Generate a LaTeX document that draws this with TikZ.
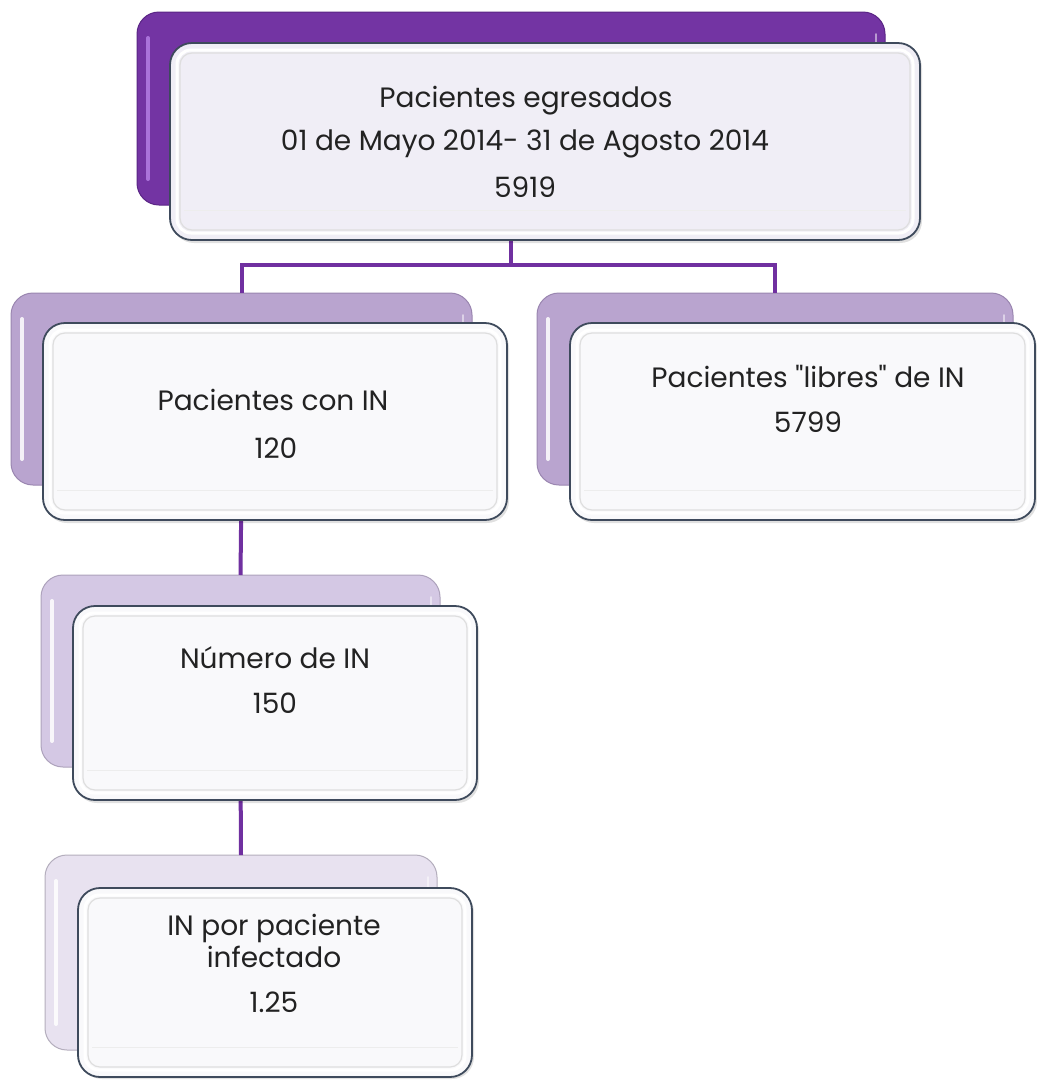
\documentclass[tikz,border=0pt]{standalone}
\usepackage{fontspec}
\setmainfont{Poppins}
\setmonofont{Poppins}
\usetikzlibrary{calc}
\definecolor{conncol}{HTML}{7030A0}
\definecolor{backA}{HTML}{7334A3}
\definecolor{backAline}{HTML}{5A2585}
\definecolor{backAhi}{HTML}{B47FE4}
\definecolor{backB}{HTML}{B9A4CF}
\definecolor{backBline}{HTML}{9A86B0}
\definecolor{backC}{HTML}{D4C8E4}
\definecolor{backCline}{HTML}{ADA2BC}
\definecolor{backD}{HTML}{E8E2F0}
\definecolor{backDline}{HTML}{B4AEBD}
\definecolor{frontA}{HTML}{F0EEF6}
\definecolor{frontB}{HTML}{F9F9FB}
\definecolor{frontline}{HTML}{3E4A5C}
\definecolor{txtcol}{HTML}{222222}
\newcommand\mybackdeco[2]{%
  \draw[#2, opacity=.85, line width=4pt, line cap=round]
    ([shift={(11,26)}]#1.north west) -- ([shift={(11,-26)}]#1.south west);
  \draw[white, opacity=.5, line width=2pt, line cap=round]
    ([shift={(-9,22)}]#1.north east) -- ([shift={(-9,40)}]#1.north east);
}
\newcommand\myfrontdeco[1]{%
  \draw[white, line width=3pt, rounded corners=14pt]
    ([shift={(7,7)}]#1.north west) rectangle ([shift={(-7,-7)}]#1.south east);
  \draw[black!13, line width=1.2pt, rounded corners=12pt]
    ([shift={(10,10)}]#1.north west) rectangle ([shift={(-10,-10)}]#1.south east);
  \draw[black!7, line width=1pt]
    ([shift={(14,-30)}]#1.south west) -- ([shift={(-14,-30)}]#1.south east);
}
\begin{document}
\begin{tikzpicture}[x=1pt,y=-1pt,
  backbox/.style={rectangle, rounded corners=22pt, inner sep=0pt, outer sep=0pt, line width=1pt},
  frontbox/.style={rectangle, rounded corners=22pt, draw=frontline, line width=1.8pt,
     inner sep=0pt, outer sep=0pt},
  shadowbox/.style={rectangle, rounded corners=22pt, fill=black, fill opacity=.12, inner sep=0pt, outer sep=0pt},
  conn/.style={draw=conncol, line width=4pt},
  lbl/.style={font=\fontsize{28}{33}\selectfont, text=txtcol, inner sep=0pt, anchor=base}]
\useasboundingbox (0,0) rectangle (1037,1080);
\fill[white] (0,0) rectangle (1037,1080);

% back boxes
\node[backbox, fill=backA, draw=backAline, minimum width=748pt, minimum height=193pt] (topB) at (511,108.5) {};
\node[backbox, fill=backB, draw=backBline, minimum width=461pt, minimum height=192pt] (leftB) at (241.5,389) {};
\node[backbox, fill=backB, draw=backBline, minimum width=476pt, minimum height=192pt] (rightB) at (775,389) {};
\node[backbox, fill=backC, draw=backCline, minimum width=399pt, minimum height=192pt] (thirdB) at (240.5,671) {};
\node[backbox, fill=backD, draw=backDline, minimum width=392pt, minimum height=195pt] (fourthB) at (241,952.5) {};
\mybackdeco{topB}{backAhi}
\mybackdeco{leftB}{white}
\mybackdeco{rightB}{white}
\mybackdeco{thirdB}{white}
\mybackdeco{fourthB}{white}

% connectors
\draw[conn] (topB.south) -- ++(0,60) -| (leftB.north);
\draw[conn] (topB.south) -- ++(0,60) -| (rightB.north);
\draw[conn] (leftB.south) -- (thirdB.north);
\draw[conn] (thirdB.south) -- (fourthB.north);

% shadows
\node[shadowbox, minimum width=750pt, minimum height=197pt] (topS) at (547,144.5) {};
\node[shadowbox, minimum width=464pt, minimum height=197pt] (leftS) at (277,424.5) {};
\node[shadowbox, minimum width=465pt, minimum height=197pt] (rightS) at (804.5,424.5) {};
\node[shadowbox, minimum width=404pt, minimum height=194pt] (thirdS) at (277,706) {};
\node[shadowbox, minimum width=394pt, minimum height=189pt] (fourthS) at (277,984.5) {};

% front boxes
\node[frontbox, fill=frontA, minimum width=750pt, minimum height=197pt] (topF) at (545,141.5) {};
\node[frontbox, fill=frontB, minimum width=464pt, minimum height=197pt] (leftF) at (275,421.5) {};
\node[frontbox, fill=frontB, minimum width=465pt, minimum height=197pt] (rightF) at (802.5,421.5) {};
\node[frontbox, fill=frontB, minimum width=404pt, minimum height=194pt] (thirdF) at (275,703) {};
\node[frontbox, fill=frontB, minimum width=394pt, minimum height=189pt] (fourthF) at (275,982.5) {};
\myfrontdeco{topF}
\myfrontdeco{leftF}
\myfrontdeco{rightF}
\myfrontdeco{thirdF}
\myfrontdeco{fourthF}

% texts
\node[lbl] (t1a) at (526,107) {Pacientes egresados};
\node[lbl] (t1b) at (525,150) {01 de Mayo 2014- 31 de Agosto 2014};
\node[lbl] (t1c) at (525,197) {5919};
\node[lbl] (t2a) at (273,410) {Pacientes con IN};
\node[lbl] (t2b) at (276,458) {120};
\node[lbl] (t3a) at (808,387) {Pacientes {\ttfamily"}libres{\ttfamily"} de IN};
\node[lbl] (t3b) at (808,432) {5799};
\node[lbl] (t4a) at (275,668) {Número de IN};
\node[lbl] (t4b) at (275,713) {150};
\node[lbl] (t5a) at (274,935) {IN por paciente};
\node[lbl] (t5b) at (274,967) {infectado};
\node[lbl] (t5c) at (274,1012) {1.25};
\end{tikzpicture}
\end{document}
